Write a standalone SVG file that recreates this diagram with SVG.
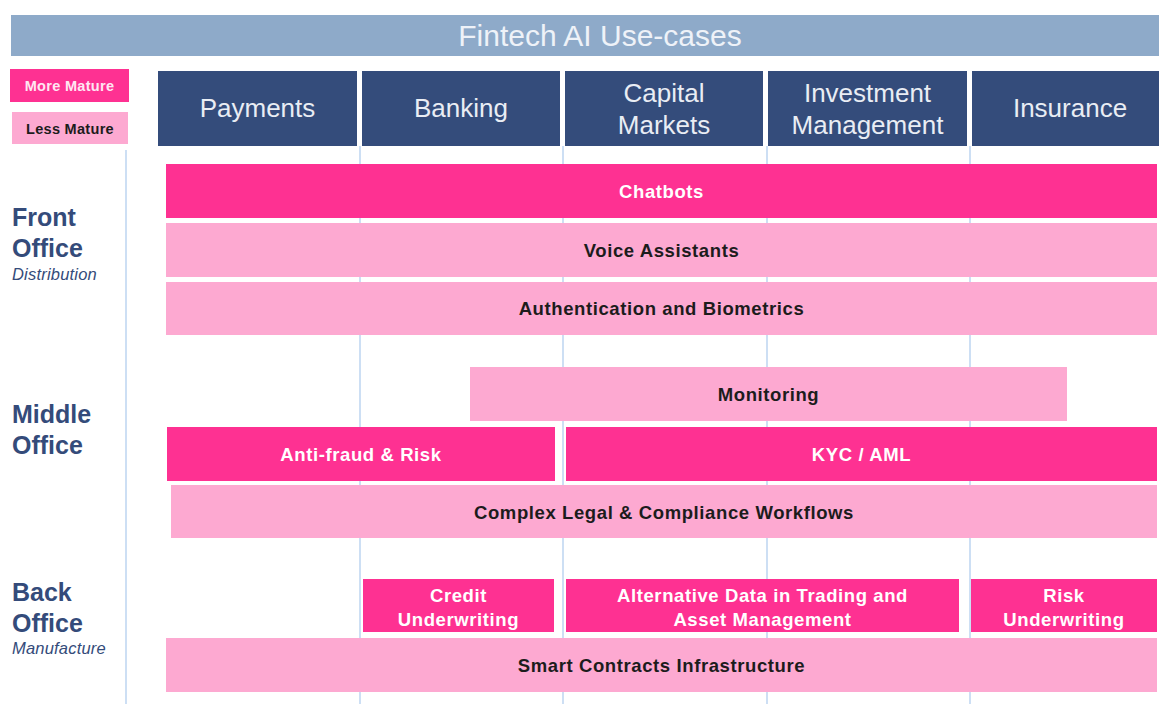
<svg xmlns="http://www.w3.org/2000/svg" width="1159" height="704" viewBox="0 0 1159 704">
<style>
  text { font-family: "Liberation Sans", Arial, sans-serif; }
  .hdr { fill: #344c7b; }
  .hdrt { fill: #e9edf4; font-size: 26px; text-anchor: middle; }
  .more { fill: #fe3192; }
  .less { fill: #fda9d1; }
  .tw { fill: #ffffff; font-size: 18.5px; font-weight: bold; text-anchor: middle; letter-spacing: 0.6px; }
  .tb { fill: #1c1c1c; font-size: 18.5px; font-weight: bold; text-anchor: middle; letter-spacing: 0.6px; }
  .side { fill: #344b7a; font-size: 25px; font-weight: bold; }
  .sub { fill: #344b7a; font-size: 16.5px; font-style: italic; letter-spacing: 0.2px; }
  .vl { stroke: #bcd5f0; stroke-width: 1.5; }
</style>
<rect width="1159" height="704" fill="#ffffff"/>
<g id="title">
  <rect x="11" y="15" width="1148" height="41" fill="#8eaac9"/>
  <text x="600" y="46" font-size="30" fill="#eef2f8" text-anchor="middle">Fintech AI Use-cases</text>
</g>
<g id="legend">
  <g id="legend-more"><rect x="10" y="69" width="119" height="33" class="more"/><text x="69.5" y="91" font-size="14.5" font-weight="bold" fill="#ffe6f2" text-anchor="middle" letter-spacing="0.3">More Mature</text></g>
  <g id="legend-less"><rect x="12" y="112" width="116" height="32" class="less"/><text x="70" y="134" font-size="14.5" font-weight="bold" fill="#1c1c1c" text-anchor="middle" letter-spacing="0.3">Less Mature</text></g>
</g>
<g id="gridlines">
  <line x1="126" y1="150" x2="126" y2="704" class="vl"/>
  <line x1="360" y1="146" x2="360" y2="704" class="vl"/>
  <line x1="563" y1="146" x2="563" y2="704" class="vl"/>
  <line x1="767" y1="146" x2="767" y2="704" class="vl"/>
  <line x1="970" y1="146" x2="970" y2="704" class="vl"/>
</g>
<g id="headers">
  <g id="h-payments"><rect x="158" y="71" width="199" height="75" class="hdr"/><text x="257.5" y="117" class="hdrt">Payments</text></g>
  <g id="h-banking"><rect x="362" y="71" width="198" height="75" class="hdr"/><text x="461" y="117" class="hdrt">Banking</text></g>
  <g id="h-capital"><rect x="565" y="71" width="198" height="75" class="hdr"/><text x="664" y="102" class="hdrt">Capital</text><text x="664" y="134" class="hdrt">Markets</text></g>
  <g id="h-investment"><rect x="768" y="71" width="199" height="75" class="hdr"/><text x="867.5" y="102" class="hdrt">Investment</text><text x="867.5" y="134" class="hdrt">Management</text></g>
  <g id="h-insurance"><rect x="972" y="71" width="187" height="75" class="hdr"/><text x="1070" y="117" class="hdrt">Insurance</text></g>
</g>
<g id="side-labels">
  <g id="front-office"><text x="12" y="226" class="side">Front</text><text x="12" y="257" class="side">Office</text><text x="12" y="280" class="sub">Distribution</text></g>
  <g id="middle-office"><text x="12" y="423" class="side">Middle</text><text x="12" y="454" class="side">Office</text></g>
  <g id="back-office"><text x="12" y="601" class="side">Back</text><text x="12" y="632" class="side">Office</text><text x="12" y="654" class="sub">Manufacture</text></g>
</g>
<g id="chatbots"><rect x="166" y="164" width="991" height="54" class="more"/><text x="661.5" y="198" class="tw">Chatbots</text></g>
<g id="voice"><rect x="166" y="223" width="991" height="54" class="less"/><text x="661.5" y="257" class="tb">Voice Assistants</text></g>
<g id="auth"><rect x="166" y="282" width="991" height="53" class="less"/><text x="661.5" y="315" class="tb">Authentication and Biometrics</text></g>
<g id="monitoring"><rect x="470" y="367" width="597" height="54" class="less"/><text x="768.5" y="401" class="tb">Monitoring</text></g>
<g id="antifraud"><rect x="167" y="427" width="388" height="54" class="more"/><text x="361" y="461" class="tw">Anti-fraud &amp; Risk</text></g>
<g id="kyc"><rect x="566" y="427" width="591" height="54" class="more"/><text x="861.5" y="461" class="tw">KYC / AML</text></g>
<g id="legal"><rect x="171" y="485" width="986" height="53" class="less"/><text x="664" y="519" class="tb">Complex Legal &amp; Compliance Workflows</text></g>
<g id="credit"><rect x="363" y="579" width="191" height="53" class="more"/><text x="458.5" y="602" class="tw">Credit</text><text x="458.5" y="626" class="tw">Underwriting</text></g>
<g id="altdata"><rect x="566" y="579" width="393" height="53" class="more"/><text x="762.5" y="602" class="tw">Alternative Data in Trading and</text><text x="762.5" y="626" class="tw">Asset Management</text></g>
<g id="risk"><rect x="971" y="579" width="186" height="53" class="more"/><text x="1064" y="602" class="tw">Risk</text><text x="1064" y="626" class="tw">Underwriting</text></g>
<g id="smart"><rect x="166" y="638" width="991" height="54" class="less"/><text x="661.5" y="672" class="tb">Smart Contracts Infrastructure</text></g>
</svg>
